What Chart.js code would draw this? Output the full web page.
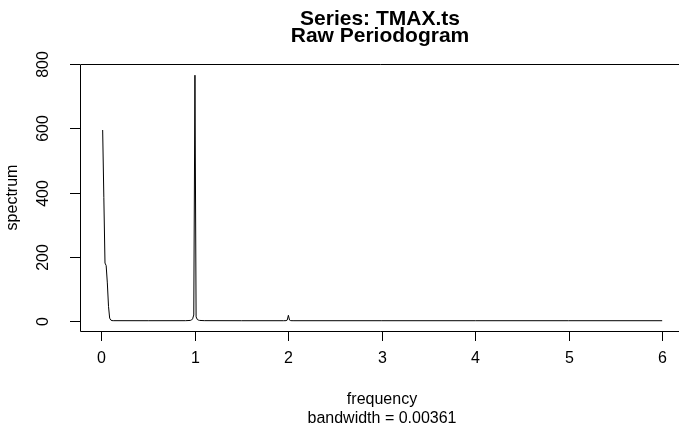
<!DOCTYPE html>
<html>
<head>
<meta charset="utf-8">
<script src="https://cdn.jsdelivr.net/npm/chart.js@4"></script>
<style>
  html, body { margin: 0; padding: 0; background: #fff; }
  #wrap { width: 679px; height: 432px; }
</style>
</head>
<body>
<div id="wrap"><canvas id="myChart" width="679" height="432"></canvas></div>
<script>
// periodogram values
var freq = [0.0125, 0.025, 0.0375, 0.05, 0.0625, 0.075, 0.0875, 0.1, 0.1125, 0.125, 0.5, 0.9, 0.95, 0.9625, 0.975, 0.9875, 1.0, 1.0125, 1.025, 1.0375, 1.05, 1.1, 1.5, 1.95, 1.975, 1.9875, 2.0, 2.0125, 2.025, 2.05, 3, 4, 5, 6];
var spec = [595, 385, 180, 172, 118, 45, 8, 2, 0.5, 0.2, 0.1, 0.2, 1, 2, 6, 18, 766, 12, 4, 2, 1, 0.3, 0.1, 0.1, 0.3, 2, 17, 2, 0.3, 0.1, 0.1, 0.1, 0.1, 0.1];

var xTicks = [0, 1, 2, 3, 4, 5, 6];
var yTicks = [0, 200, 400, 600, 800];

var titleLines = ['Series: TMAX.ts', 'Raw Periodogram'];
var xLabel = 'frequency';
var subLabel = 'bandwidth = 0.00361';
var yLabel = 'spectrum';

var points = freq.map(function (f, i) { return { x: f, y: spec[i] }; });

var FONT = '"Liberation Sans", Arial, Helvetica, sans-serif';

// draws the R-style box, axes and texts
var rAxes = {
  id: 'rAxes',
  afterDraw: function (chart) {
    var ctx = chart.ctx;
    var a = chart.chartArea;
    var xs = chart.scales.x, ys = chart.scales.y;
    ctx.save();
    ctx.strokeStyle = '#000';
    ctx.lineWidth = 1;
    ctx.fillStyle = '#000';

    // box (right edge is off the canvas)
    ctx.beginPath();
    ctx.moveTo(700, Math.round(a.top) + 0.5);
    ctx.lineTo(Math.round(a.left) + 0.5, Math.round(a.top) + 0.5);
    ctx.lineTo(Math.round(a.left) + 0.5, Math.round(a.bottom) + 0.5);
    ctx.lineTo(700, Math.round(a.bottom) + 0.5);
    ctx.stroke();

    // x axis ticks
    ctx.font = '16px ' + FONT;
    ctx.textAlign = 'center';
    ctx.textBaseline = 'middle';
    xTicks.forEach(function (t) {
      var px = Math.round(xs.getPixelForValue(t)) + 0.5;
      ctx.beginPath();
      ctx.moveTo(px, a.bottom);
      ctx.lineTo(px, a.bottom + 10);
      ctx.stroke();
      ctx.fillText(String(t), px, a.bottom + 28);
    });

    // y axis ticks, labels rotated
    yTicks.forEach(function (t) {
      var py = Math.round(ys.getPixelForValue(t)) + 0.5;
      ctx.beginPath();
      ctx.moveTo(a.left, py);
      ctx.lineTo(a.left - 10, py);
      ctx.stroke();
      ctx.save();
      ctx.translate(a.left - 36, py);
      ctx.rotate(-Math.PI / 2);
      ctx.fillText(String(t), 0, 0);
      ctx.restore();
    });

    // axis titles
    ctx.fillText(xLabel, 382, 400);
    ctx.fillText(subLabel, 382, 419);
    ctx.save();
    ctx.translate(13, (a.top + a.bottom) / 2);
    ctx.rotate(-Math.PI / 2);
    ctx.fillText(yLabel, 0, 0);
    ctx.restore();

    // main title
    ctx.font = 'bold 21px ' + FONT;
    ctx.fillText(titleLines[0], 380, 19);
    ctx.fillText(titleLines[1], 380, 36);
    ctx.restore();
  }
};

var ctx = document.getElementById('myChart').getContext('2d');
var myChart = new Chart(ctx, {
  type: 'line',
  data: {
    datasets: [{
      data: points,
      borderColor: '#000',
      borderWidth: 1,
      pointRadius: 0,
      tension: 0,
      fill: false
    }]
  },
  options: {
    responsive: false,
    animation: false,
    layout: { padding: { left: 80, top: 64, right: 0, bottom: 101 } },
    plugins: { legend: { display: false }, tooltip: { enabled: false } },
    scales: {
      x: { type: 'linear', min: -0.23, max: 6.18, display: false },
      y: { type: 'linear', min: -32, max: 801, display: false }
    }
  },
  plugins: [rAxes]
});
</script>
</body>
</html>
